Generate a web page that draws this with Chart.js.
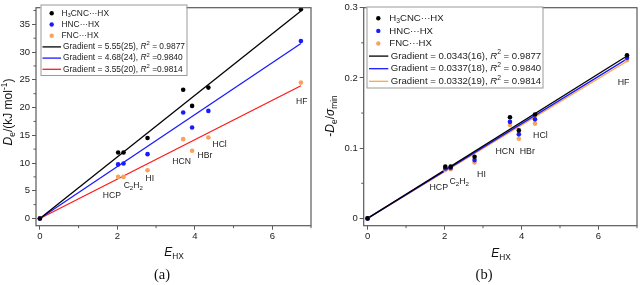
<!DOCTYPE html>
<html><head><meta charset="utf-8">
<script src="https://cdn.jsdelivr.net/npm/chart.js@4.4.1/dist/chart.umd.min.js"></script>
<style>
html,body{margin:0;padding:0;background:#fff;width:640px;height:285px;overflow:hidden}
#wa{position:absolute;left:0;top:0;width:320px;height:285px}
#wb{position:absolute;left:320px;top:0;width:320px;height:285px}
</style></head><body>
<div id="wa"><canvas id="ca" width="320" height="285"></canvas></div>
<div id="wb"><canvas id="cb" width="320" height="285"></canvas></div>
<script>
// ---------- data ----------
const molecules = ['origin','HCP','C2H2','HI','HCN','HBr','HCl','HF'];
const E_HX      = [0, 2.02, 2.16, 2.78, 3.70, 3.93, 4.35, 6.74];
// panel (a): De / kJ mol-1
const De_H3CNC  = [0, 11.9, 11.9, 14.5, 23.2, 20.3, 23.6, 37.7];
const De_HNC    = [0, 9.75, 9.9, 11.6, 19.1, 16.4, 19.4, 32.0];
const De_FNC    = [0, 7.5, 7.5, 8.7, 14.3, 12.2, 14.6, 24.5];
// panel (b): -De/sigma_min
const R_H3CNC   = [0, 0.0737, 0.0737, 0.0877, 0.144, 0.1253, 0.148, 0.2324];
const R_HNC     = [0, 0.071, 0.072, 0.083, 0.1375, 0.1197, 0.141, 0.2286];
const R_FNC     = [0, 0.069, 0.070, 0.0797, 0.133, 0.1135, 0.135, 0.2254];
// fitted gradients
const gradA = [5.55, 4.68, 3.55];
const gradB = [0.0343, 0.0337, 0.0332];
const gradTextA = ['5.55(25)', '4.68(24)', '3.55(20)'];
const gradTextB = ['0.0343(16)', '0.0337(18)', '0.0332(19)'];
const r2Text = ['0.9877', '0.9840', '0.9814'];
// ticks
const xTicks = [0, 2, 4, 6];
const xMinor = [1, 3, 5, 7];
const yTicksA = [0, 5, 10, 15, 20, 25, 30, 35];
const yMinorA = [2.5, 7.5, 12.5, 17.5, 22.5, 27.5, 32.5, 37.5];
const yTicksB = [0, 0.1, 0.2, 0.3];
const yMinorB = [0.05, 0.15, 0.25];
// molecule label positions (data coordinates of text centre)
const labelPosA = [null,[1.86,4.1],[2.41,5.9],[2.84,7.2],[3.66,10.3],[4.26,11.3],[4.64,13.3],[6.76,21.0]];
const labelPosB = [null,[1.85,0.0445],[2.38,0.053],[2.96,0.062],[3.57,0.0948],[4.15,0.0948],[4.49,0.118],[6.65,0.193]];

const FONT = "'Liberation Sans', Arial, sans-serif";
const SERIF = "'Liberation Serif', 'Times New Roman', serif";

function richSegs(name){
  if(name==='C2H2') return [{t:'C'},{t:'2',sub:1},{t:'H'},{t:'2',sub:1}];
  return [{t:name}];
}
function segFont(s,size){
  const sz = (s.sub||s.sup)? size*0.7 : size;
  return (s.i?'italic ':'')+sz+'px '+(s.serif?SERIF:FONT);
}
function drawRich(ctx, segs, x, y, size, align){
  let w=0;
  segs.forEach(s=>{ctx.font=segFont(s,size); w+=ctx.measureText(s.t).width;});
  let cx = align==='left'? x : x - w/2;
  ctx.textBaseline='middle'; ctx.textAlign='left';
  segs.forEach(s=>{
    ctx.font=segFont(s,size);
    let dy = s.sub? size*0.3 : (s.sup? -size*0.38 : 0);
    ctx.fillText(s.t, cx, y+dy);
    cx += ctx.measureText(s.t).width;
  });
}

function makePlugin(cfg){
  return {
    id:'custom'+cfg.id,
    afterDraw(chart){
      const ctx=chart.ctx, a=chart.chartArea, xs=chart.scales.x, ys=chart.scales.y;
      ctx.save();
      // frame
      ctx.strokeStyle='#5a5a5a'; ctx.lineWidth=1.2;
      ctx.strokeRect(a.left, a.top, a.right-a.left, a.bottom-a.top);
      // minor ticks
      ctx.lineWidth=1; ctx.strokeStyle='#5a5a5a';
      cfg.xMinor.forEach(v=>{const p=xs.getPixelForValue(v); if(p<=a.right+0.5){ctx.beginPath();ctx.moveTo(p,a.bottom);ctx.lineTo(p,a.bottom+2.5);ctx.stroke();}});
      cfg.yMinor.forEach(v=>{const p=ys.getPixelForValue(v); if(p>=a.top-0.5){ctx.beginPath();ctx.moveTo(a.left,p);ctx.lineTo(a.left-2.5,p);ctx.stroke();}});
      // molecule labels
      ctx.fillStyle='#222';
      cfg.labelPos.forEach((p,i)=>{ if(!p) return;
        drawRich(ctx, richSegs(molecules[i]), xs.getPixelForValue(p[0]), ys.getPixelForValue(p[1]), cfg.labelSize, 'center');
      });
      // legend
      const L=cfg.legend;
      ctx.fillStyle='#fff'; ctx.fillRect(L.x,L.y,L.w,L.h);
      ctx.strokeStyle='#9a9a9a'; ctx.lineWidth=1; ctx.strokeRect(L.x+0.5,L.y+0.5,L.w,L.h);
      const names=[[{t:'H'},{t:'3',sub:1},{t:'CNC···HX'}],[{t:'HNC···HX'}],[{t:'FNC···HX'}]];
      for(let i=0;i<3;i++){
        const yy=L.y+L.first+i*L.step;
        ctx.fillStyle=cfg.ptColors[i];
        ctx.beginPath(); ctx.arc(L.mx, yy, 2.2, 0, Math.PI*2); ctx.fill();
        ctx.fillStyle='#222';
        drawRich(ctx, names[i], L.tx, yy, L.size, 'left');
      }
      for(let i=0;i<3;i++){
        const yy=L.y+L.first+(i+3)*L.step;
        ctx.strokeStyle=cfg.lnColors[i]; ctx.lineWidth=1.3;
        ctx.beginPath(); ctx.moveTo(L.lx0,yy); ctx.lineTo(L.lx1,yy); ctx.stroke();
        ctx.fillStyle='#222';
        const eq = (cfg.id==='a' && i>0)? ' =' : ' = ';
        drawRich(ctx, [{t:'Gradient = '+cfg.gradText[i]+', '},{t:'R',i:1},{t:'2',sup:1},{t:eq+r2Text[i]}], L.tx+1.5, yy, L.size, 'left');
      }
      // axis titles
      ctx.fillStyle='#111';
      drawRich(ctx, [{t:'E',i:1},{t:'HX',sub:1}], cfg.xTitle[0], cfg.xTitle[1], 12, 'center');
      ctx.save(); ctx.translate(cfg.yTitle[0], cfg.yTitle[1]); ctx.rotate(-Math.PI/2);
      drawRich(ctx, cfg.yTitleSegs, 0, 0, 12, 'center'); ctx.restore();
      drawRich(ctx, [{t:cfg.panel, serif:1}], cfg.panelPos[0], cfg.panelPos[1], 14.5, 'center');
      ctx.restore();
    }
  };
}

function pts(xsArr, ysArr){ return xsArr.map((x,i)=>({x:x, y:ysArr[i]})); }
function fit(g){ const xm=Math.max(...E_HX); return [{x:0,y:0},{x:xm,y:g*xm}]; }

function buildChart(canvasId, cfg){
  const datasets=[];
  cfg.series.forEach((s,i)=>{
    datasets.push({type:'scatter', data:pts(E_HX,s), backgroundColor:cfg.ptColors[i], borderWidth:0, pointRadius:2.3, pointHoverRadius:2.3, order:0});
  });
  cfg.grads.forEach((g,i)=>{
    datasets.push({type:'line', data:fit(g), borderColor:cfg.lnColors[i], borderWidth:1.3, pointRadius:0, fill:false, tension:0, order:1});
  });
  const tickFont={family:FONT, size:9.5};
  return new Chart(document.getElementById(canvasId), {
    data:{datasets},
    options:{
      responsive:false, animation:false, devicePixelRatio:1,
      layout:{padding:cfg.padding},
      plugins:{legend:{display:false}, tooltip:{enabled:false}},
      scales:{
        x:{type:'linear', min:cfg.xMin, max:cfg.xMax,
           afterFit(s){ s.height=cfg.xAxisH; },
           afterBuildTicks(s){ s.ticks=xTicks.map(v=>({value:v})); },
           ticks:{font:tickFont, color:'#222', padding:1, callback:v=>String(v), maxRotation:0, autoSkip:false},
           grid:{display:true, drawOnChartArea:false, drawTicks:true, tickLength:4, color:'#5a5a5a', lineWidth:1},
           border:{display:false}},
        y:{type:'linear', min:cfg.yMin, max:cfg.yMax,
           afterFit(s){ s.width=cfg.yAxisW; },
           afterBuildTicks(s){ s.ticks=cfg.yTicks.map(v=>({value:v})); },
           ticks:{font:tickFont, color:'#222', padding:2, callback:v=>String(+v.toFixed(3)), autoSkip:false},
           grid:{display:true, drawOnChartArea:false, drawTicks:true, tickLength:4, color:'#5a5a5a', lineWidth:1},
           border:{display:false}}
      }
    },
    plugins:[makePlugin(cfg)]
  });
}

buildChart('ca', {
  id:'a', panel:'(a)',
  series:[De_H3CNC, De_HNC, De_FNC], grads:gradA, gradText:gradTextA,
  ptColors:['#000000','#1a1aff','#f7a35c'], lnColors:['#000000','#1a1aff','#ff1a1a'],
  xMin:-0.1, xMax:7, yMin:-1.3, yMax:38,
  yTicks:yTicksA, xMinor:xMinor, yMinor:yMinorA,
  padding:{top:4, right:9, left:0, bottom:0}, xAxisH:59.3, yAxisW:36,
  labelPos:labelPosA, labelSize:8.6,
  legend:{x:40.5, y:4.5, w:146, h:70.5, first:8.8, step:11.2, mx:51.7, lx0:42.5, lx1:61, tx:61.5, size:8.4},
  xTitle:[174,253], yTitle:[9,112], panelPos:[162,275],
  yTitleSegs:[{t:'D',i:1},{t:'e',sub:1},{t:'/(kJ mol'},{t:'-1',sup:1},{t:')'}]
});
buildChart('cb', {
  id:'b', panel:'(b)',
  series:[R_H3CNC, R_HNC, R_FNC], grads:gradB, gradText:gradTextB,
  ptColors:['#000000','#1a1aff','#f7a35c'], lnColors:['#000000','#1a1aff','#ffa54a'],
  xMin:-0.1, xMax:7, yMin:-0.0104, yMax:0.3,
  yTicks:yTicksB, xMinor:xMinor, yMinor:yMinorB,
  padding:{top:5, right:3, left:0, bottom:0}, xAxisH:59.3, yAxisW:43.7,
  labelPos:labelPosB, labelSize:8.8,
  legend:{x:46.5, y:6.5, w:176, h:81, first:11.8, step:12.6, mx:58.3, lx0:49, lx1:68.3, tx:69.3, size:9.6},
  xTitle:[181,254], yTitle:[11,116], panelPos:[164,275],
  yTitleSegs:[{t:'-'},{t:'D',i:1},{t:'e',sub:1},{t:'/'},{t:'σ',i:1},{t:'min',sub:1}]
});
</script>
</body></html>
